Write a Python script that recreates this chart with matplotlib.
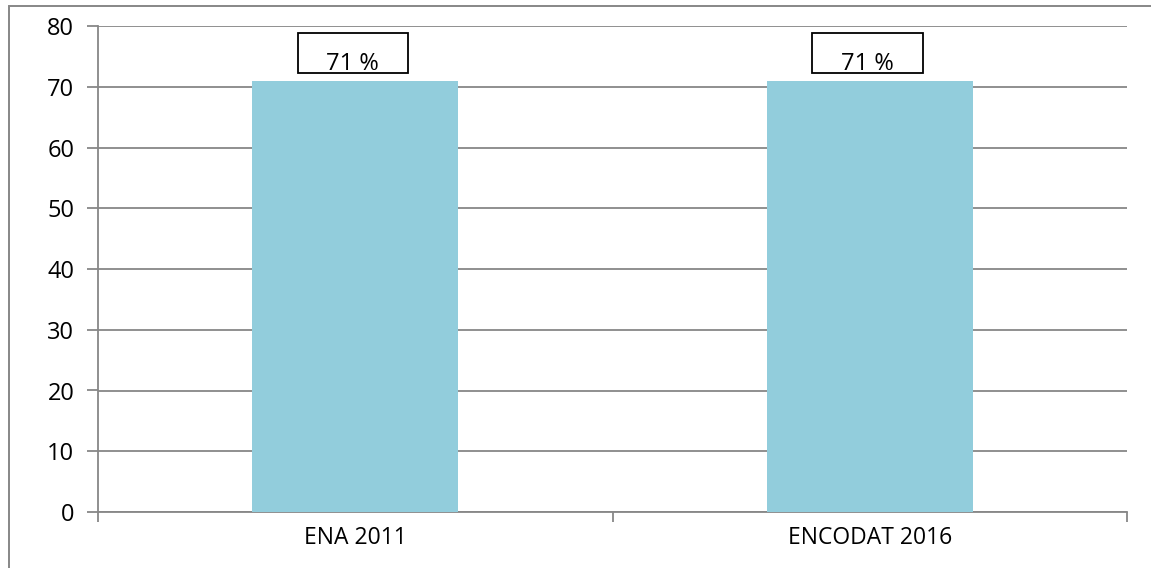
import matplotlib.pyplot as plt
from matplotlib.patches import Rectangle
import numpy as np

categories = ['ENA 2011', 'ENCODAT 2016']
values = [71, 71]
labels = ['71 %', '71 %']
y_ticks = [0, 10, 20, 30, 40, 50, 60, 70, 80]

plt.rcParams['font.family'] = ['Open Sans', 'DejaVu Sans']

fig = plt.figure(figsize=(11.51, 5.68), dpi=100)
ax = fig.add_axes([0.0851, 0.0986, 0.8941, 0.8556])

x = np.arange(len(categories))
ax.bar(x, values, width=0.4, color='#92CDDC', zorder=3)

# label boxes above bars
for xi, v, lab in zip(x, values, labels):
    ax.add_patch(Rectangle((xi - 0.112, v + 1.3), 0.215, 6.5, fill=False,
                           edgecolor='black', linewidth=1.3, zorder=4))
    ax.text(xi - 0.005, v + 0.7, lab, ha='center', va='bottom', fontsize=17, zorder=5)

ax.set_xlim(-0.5, len(categories) - 0.5)
ax.set_ylim(0, 80)
ax.set_yticks(y_ticks)
ax.set_yticklabels([str(t) for t in y_ticks], fontsize=17)
ax.grid(axis='y', color='#878787', linewidth=1.3, zorder=1)

ax.set_xticks(x)
ax.set_xticklabels(categories, fontsize=16.5)
ax.tick_params(axis='x', which='major', length=0, pad=10)
ax.set_xticks(np.arange(len(categories) + 1) - 0.5, minor=True)
ax.tick_params(axis='x', which='minor', length=7, color='#878787', width=1.3)
ax.tick_params(axis='y', length=8, color='#878787', width=1.3, pad=9)

for s in ['top', 'right']:
    ax.spines[s].set_visible(False)
for s in ['left', 'bottom']:
    ax.spines[s].set_color('#878787')
    ax.spines[s].set_linewidth(1.3)

# outer chart border
fig.patches.append(Rectangle((9 / 1151, -0.1), 1.2, 1 - 6 / 568 + 0.1, transform=fig.transFigure,
                             fill=False, edgecolor='#878787', linewidth=1.4))

fig.savefig('out.png', dpi=100)
